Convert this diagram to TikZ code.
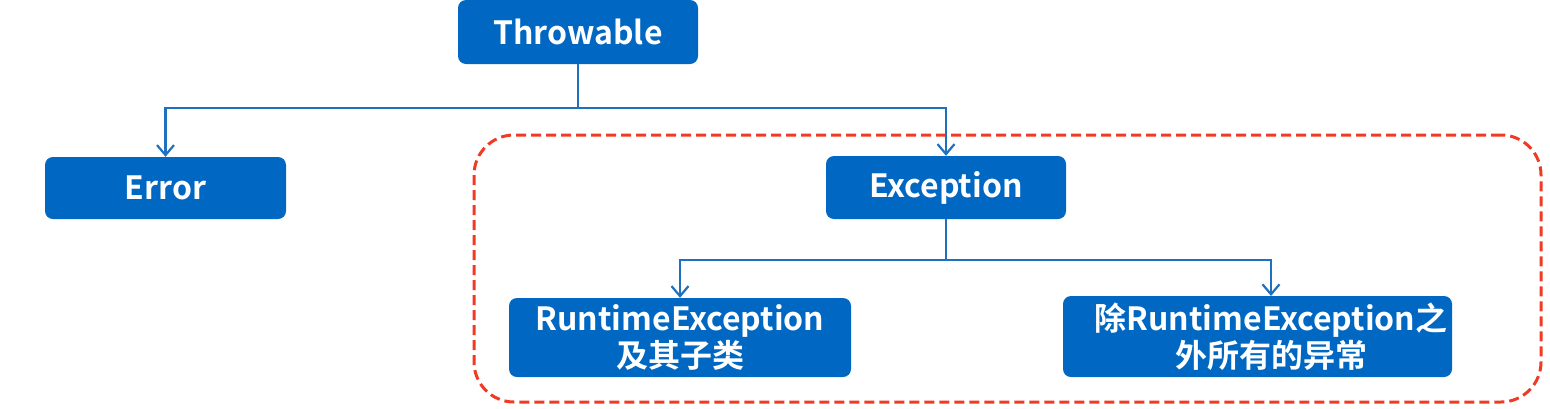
\documentclass[tikz,border=0pt]{standalone}
\usepackage{fontspec}
\setmainfont{Noto Sans CJK SC}[BoldFont={* Bold}]
\usetikzlibrary{arrows.meta}
\definecolor{boxblue}{HTML}{0068C2}
\definecolor{lineblue}{HTML}{2070C0}
\definecolor{dashred}{HTML}{F03A24}
\tikzset{
  clstext/.style={text=white, font=\bfseries\fontsize{32}{37}\selectfont, align=center, inner sep=0pt},
  cls/.style={fill=boxblue, rounded corners=8pt, clstext},
  conn/.style={draw=lineblue, line width=2.2pt, -{Straight Barb[length=10pt,width=17pt,line width=2.2pt]}},
  plain/.style={draw=lineblue, line width=2.2pt},
  group/.style={draw=dashred, line width=3pt, dash pattern=on 10pt off 5pt, rounded corners=40pt}
}
\begin{document}
\begin{tikzpicture}[x=1pt,y=-1pt]
\useasboundingbox (0,0) rectangle (1550,408);
\node[group, minimum width=1067pt, minimum height=267pt] (grp) at (1007.5,268.5) {};
\node[cls, minimum width=240pt, minimum height=64pt] (thr) at (578,32) {Throwable};
\node[cls, minimum width=241pt, minimum height=62pt] (err) at (165.5,188) {Error};
\node[cls, minimum width=240pt, minimum height=63pt] (exc) at (946,187.5) {Exception};
\node[cls, minimum width=342pt, minimum height=79pt] (rte) at (680,337.5) {RuntimeException\\及其子类};
\node[cls, minimum width=389pt, minimum height=81pt] (oth) at (1257.5,336.5) {};
\node[clstext] (othtxt) at (1271,336.5) {除RuntimeException之\\外所有的异常};
\coordinate (j1) at (578,108);
\coordinate (j2) at (946,260);
\coordinate (othin) at (1271,296);
\draw[plain] (thr.south) -- (j1);
\draw[conn] (j1) -| (err.north);
\draw[conn] (j1) -| (exc.north);
\draw[plain] (exc.south) -- (j2);
\draw[conn] (j2) -| (rte.north);
\draw[conn] (j2) -| (othin);
\end{tikzpicture}
\end{document}
